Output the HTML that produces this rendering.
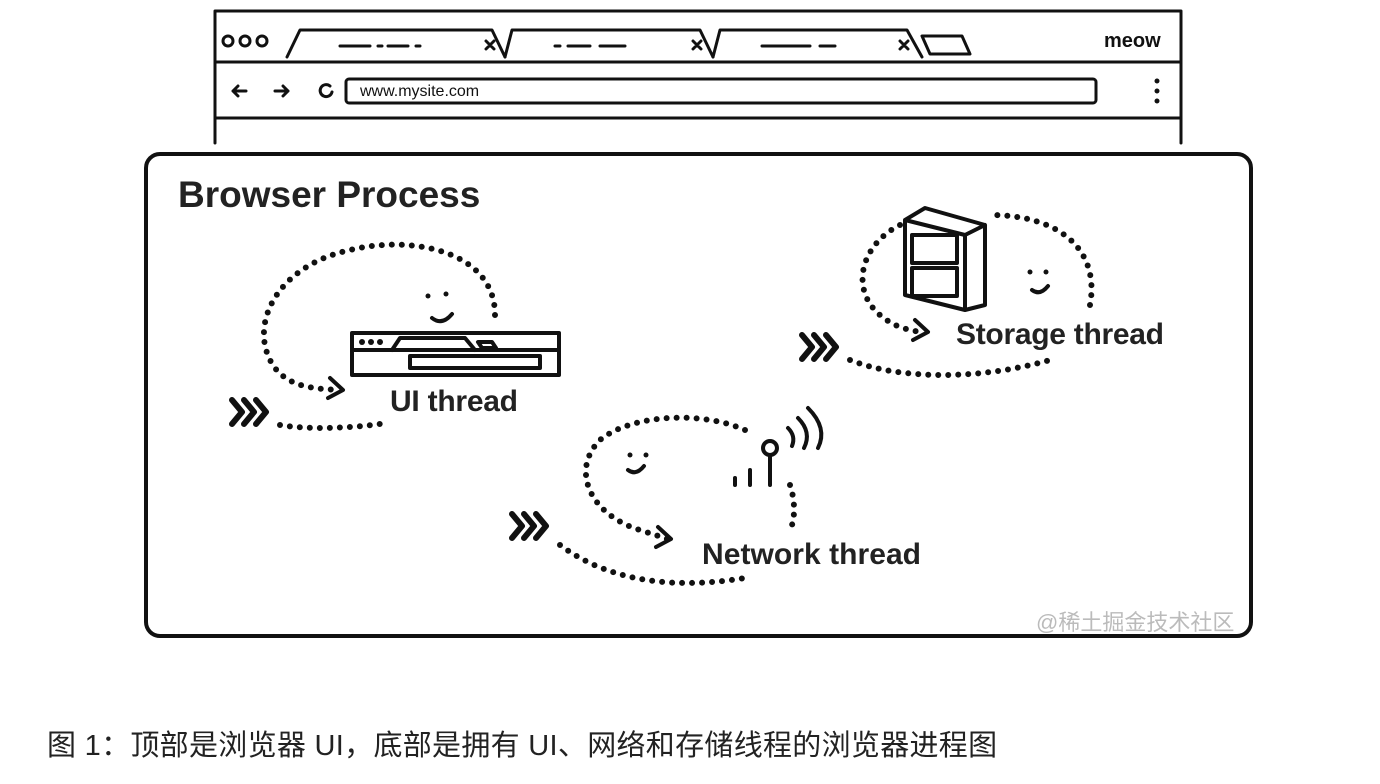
<!DOCTYPE html>
<html><head><meta charset="utf-8"><style>
body{margin:0;width:1380px;height:784px;background:#fff;overflow:hidden;font-family:"Liberation Sans","Noto Sans CJK SC",sans-serif}
svg{position:absolute;left:0;top:0}
.cap{position:absolute;left:47px;top:722px;font-size:29px;letter-spacing:0.3px;color:#222;font-family:"Liberation Sans","Noto Sans CJK SC",sans-serif}
</style></head><body>
<svg width="1380" height="784" viewBox="0 0 1380 784" font-family="Liberation Sans, sans-serif">
<g fill="none" stroke="#111" stroke-width="3" stroke-linecap="round" stroke-linejoin="round">
<path d="M215 143 V11 H1181 V143"/>
<line x1="215" y1="62" x2="1181" y2="62"/>
<line x1="215" y1="118" x2="1181" y2="118"/>
<circle cx="228" cy="41" r="5"/><circle cx="245" cy="41" r="5"/><circle cx="262" cy="41" r="5"/>
<path d="M287 57 L300 30 H492 L505 57"/>
<path d="M505 57 L512 30 H700 L713 57"/>
<path d="M713 57 L720 30 H907 L922 57"/>
<path d="M922 36 H962 L970 54 H930 Z"/>
<path d="M340 46 H370 M378 46 H382 M388 46 H408 M416 46 H420"/>
<path d="M555 46 H560 M568 46 H590 M600 46 H625"/>
<path d="M762 46 H810 M820 46 H835"/>
<path d="M486 41 l8 8 M494 41 l-8 8 M693 41 l8 8 M701 41 l-8 8 M900 41 l8 8 M908 41 l-8 8"/>
<path d="M233 91 H246 M238 86 l-5 5 5 5 M275 91 H288 M283 86 l5 5 -5 5"/>
<path d="M330 86 a6 6 0 1 0 2 6"/>
<rect x="346" y="79" width="750" height="24" rx="3"/>
<rect x="146" y="154" width="1105" height="482" rx="14" stroke-width="4"/>
</g>
<g fill="#111" stroke="none">
<circle cx="1157" cy="81" r="2.5"/><circle cx="1157" cy="91" r="2.5"/><circle cx="1157" cy="101" r="2.5"/>
</g>
<text x="1104" y="47" font-size="20" font-weight="bold" fill="#111">meow</text>
<text x="360" y="96" font-size="16" fill="#111">www.mysite.com</text>
<text x="178" y="207" font-size="37" font-weight="bold" fill="#222">Browser Process</text>
<text x="390" y="411" font-size="30" font-weight="bold" fill="#222" textLength="128">UI thread</text>
<text x="956" y="344" font-size="30" font-weight="bold" fill="#222" textLength="208">Storage thread</text>
<text x="702" y="564" font-size="30" font-weight="bold" fill="#222" textLength="219">Network thread</text>
<text x="1036" y="630" font-size="22" fill="#bbb" font-family="Liberation Sans, Noto Sans CJK SC, sans-serif">@稀土掘金技术社区</text>
<g fill="none" stroke="#111" stroke-width="6" stroke-linecap="round" stroke-dasharray="0 10">
<path d="M495 315 C495 250 410 235 350 250 C280 265 250 320 270 360 C285 390 320 388 335 390"/>
<path d="M280 425 C310 430 350 428 380 424"/>
<path d="M1090 305 C1100 250 1060 215 990 215 M900 225 C860 245 850 290 880 315 C895 328 910 330 920 332"/>
<path d="M850 360 C900 380 980 380 1050 360"/>
<path d="M745 430 C700 410 630 415 600 440 C570 470 590 515 640 530 C655 535 665 538 670 540 M790 485 C795 500 795 515 792 525"/>
<path d="M560 545 C600 575 660 592 745 578"/>
</g>
<g fill="none" stroke="#111" stroke-width="4" stroke-linecap="round" stroke-linejoin="round">
<path d="M330 378 l13 12 -15 8"/>
<path d="M915 320 l13 12 -15 8"/>
<path d="M658 527 l13 12 -15 8"/>
<path d="M232 400 l10 12 -10 12 M244 400 l10 12 -10 12 M256 400 l10 12 -10 12" stroke-width="6"/>
<path d="M802 335 l10 12 -10 12 M814 335 l10 12 -10 12 M826 335 l10 12 -10 12" stroke-width="6"/>
<path d="M512 514 l10 12 -10 12 M524 514 l10 12 -10 12 M536 514 l10 12 -10 12" stroke-width="6"/>
<path d="M432 318 q10 8 20 -4"/><path d="M1032 290 q8 6 16 -4"/><path d="M628 470 q8 6 16 -4"/>
<rect x="352" y="333" width="207" height="42"/>
<line x1="352" y1="350" x2="559" y2="350"/>
<path d="M392 350 L400 338 H465 L475 350"/>
<path d="M478 342 H492 L496 348 H482 Z"/>
<rect x="410" y="356" width="130" height="12"/>
<path d="M905 220 L925 208 L985 225 L985 305 L965 310 L905 295 Z M905 220 L965 235 L965 310 M965 235 L985 225"/>
<rect x="912" y="235" width="45" height="28"/><rect x="912" y="268" width="45" height="28"/>
<circle cx="770" cy="448" r="7"/><path d="M770 455 V485 M750 470 V485 M735 478 V485"/>
<path d="M788 428 q8 8 4 18 M798 418 q14 14 6 30 M808 408 q20 20 10 40"/>
</g>
<g fill="#111"><circle cx="428" cy="296" r="2.5"/><circle cx="446" cy="294" r="2.5"/><circle cx="1030" cy="272" r="2.5"/><circle cx="1046" cy="272" r="2.5"/><circle cx="630" cy="455" r="2.5"/><circle cx="646" cy="455" r="2.5"/>
<circle cx="362" cy="342" r="3"/><circle cx="371" cy="342" r="3"/><circle cx="380" cy="342" r="3"/></g>
</svg>
<div class="cap">图 1：顶部是浏览器 UI，底部是拥有 UI、网络和存储线程的浏览器进程图</div>
</body></html>
